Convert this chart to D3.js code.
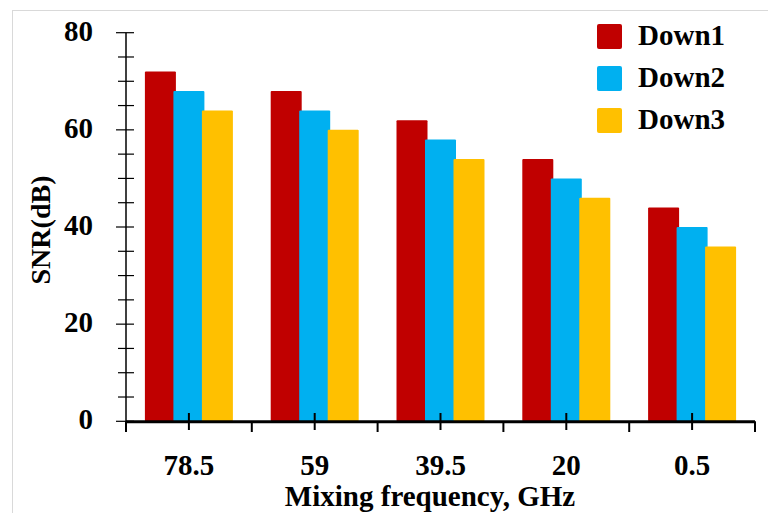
<!DOCTYPE html>
<html>
<head>
<meta charset="utf-8">
<script src="https://cdn.jsdelivr.net/npm/d3@7"></script>
<style>
  html, body { margin: 0; padding: 0; background: #fff; }
  svg { display: block; }
  text { font-family: "Liberation Serif", "Times New Roman", serif; font-weight: bold; fill: #000; }
</style>
</head>
<body>
<svg id="chart" width="768" height="513"></svg>
<script>
const categories = ["78.5", "59", "39.5", "20", "0.5"];
const seriesNames = ["Down1", "Down2", "Down3"];
const down1 = [72, 68, 62, 54, 44];
const down2 = [68, 64, 58, 50, 40];
const down3 = [64, 60, 54, 46, 36];
const seriesValues = [down1, down2, down3];
const colors = ["#C00000", "#00B0F0", "#FFC000"];
const yTickValues = [0, 20, 40, 60, 80];
const yMinorTickValues = d3.range(0, 81, 5);

const svg = d3.select("#chart");

// outer frame
svg.append("rect")
  .attr("x", 12.5).attr("y", 10.5)
  .attr("width", 800).attr("height", 600)
  .attr("fill", "none").attr("stroke", "#d9d9d9").attr("stroke-width", 1);

const x0 = 126, x1 = 755, yBottom = 421.3, yTop = 32.7;

const x = d3.scaleBand().domain(categories).range([x0, x1]).padding(0);
const xs = d3.scalePoint().domain(seriesNames).range([-28.5, 28.5]);
const barW = 31;
const y = d3.scaleLinear().domain([0, 80]).range([yBottom, yTop]);

// bars
seriesNames.forEach((s, si) => {
  svg.append("g").selectAll("rect")
    .data(categories.map((c, i) => ({ c, v: seriesValues[si][i] })))
    .join("rect")
    .attr("x", d => x(d.c) + x.bandwidth() / 2 + xs(s) - barW / 2)
    .attr("y", d => y(d.v))
    .attr("width", barW)
    .attr("height", d => y(0) - y(d.v))
    .attr("rx", 1)
    .attr("fill", colors[si]);
});

// y axis
const gy = svg.append("g");
gy.append("line")
  .attr("x1", x0).attr("x2", x0).attr("y1", yTop).attr("y2", yBottom)
  .attr("stroke", "#000").attr("stroke-width", 1.5);
gy.selectAll("line.minor")
  .data(yMinorTickValues)
  .join("line").attr("class", "minor")
  .attr("x1", d => yTickValues.includes(d) ? 116 : 118)
  .attr("x2", 134)
  .attr("y1", d => y(d)).attr("y2", d => y(d))
  .attr("stroke", "#000").attr("stroke-width", 1.2);
gy.selectAll("text")
  .data(yTickValues)
  .join("text")
  .attr("x", 93)
  .attr("y", d => y(d) - 2)
  .attr("dy", "0.35em")
  .attr("text-anchor", "end")
  .attr("font-size", 29)
  .text(d => d);

// x axis
const gx = svg.append("g");
gx.append("line")
  .attr("x1", x0).attr("x2", x1).attr("y1", yBottom + 0.5).attr("y2", yBottom + 0.5)
  .attr("stroke", "#000").attr("stroke-width", 3);
const bounds = categories.map(c => x(c)).concat([x1]);
gx.selectAll("line.bound")
  .data(bounds)
  .join("line").attr("class", "bound")
  .attr("x1", d => d).attr("x2", d => d)
  .attr("y1", yBottom).attr("y2", 432)
  .attr("stroke", "#000").attr("stroke-width", 2);
gx.selectAll("line.center")
  .data(categories)
  .join("line").attr("class", "center")
  .attr("x1", d => x(d) + x.bandwidth() / 2).attr("x2", d => x(d) + x.bandwidth() / 2)
  .attr("y1", 413).attr("y2", 430)
  .attr("stroke", "#000").attr("stroke-width", 2);
gx.selectAll("text")
  .data(categories)
  .join("text")
  .attr("x", d => x(d) + x.bandwidth() / 2)
  .attr("y", 475)
  .attr("text-anchor", "middle")
  .attr("font-size", 29)
  .text(d => d);

// axis titles
svg.append("text")
  .attr("x", 430).attr("y", 506)
  .attr("text-anchor", "middle")
  .attr("font-size", 29)
  .text("Mixing frequency, GHz");
svg.append("text")
  .attr("transform", "translate(50,230) rotate(-90)")
  .attr("text-anchor", "middle")
  .attr("font-size", 28)
  .text("SNR(dB)");

// legend
const lg = svg.append("g");
seriesNames.forEach((s, i) => {
  const yy = 24 + i * 42;
  lg.append("rect")
    .attr("x", 597).attr("y", yy).attr("width", 25).attr("height", 25)
    .attr("rx", 2).attr("fill", colors[i]);
  lg.append("text")
    .attr("x", 638).attr("y", yy + 21)
    .attr("font-size", 29)
    .text(s);
});
</script>
</body>
</html>
